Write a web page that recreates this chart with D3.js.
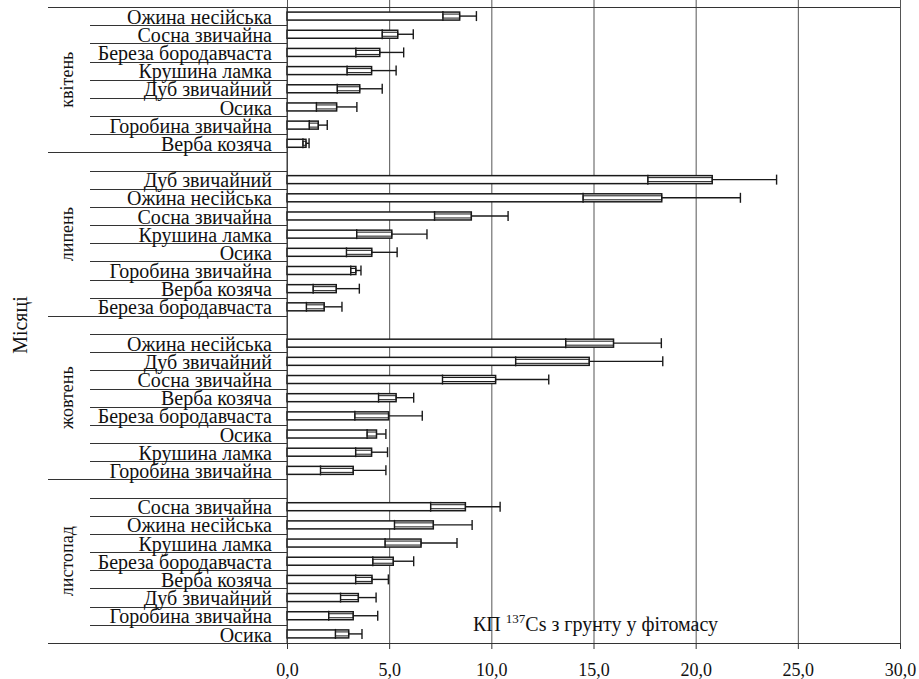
<!DOCTYPE html>
<html>
<head>
<meta charset="utf-8">
<script src="https://cdn.jsdelivr.net/npm/d3@7"></script>
<style>
  body { margin: 0; background: #fff; }
  svg { display: block; }
  text { font-family: "Liberation Serif", "Times New Roman", serif; fill: #111; }
</style>
</head>
<body>
<svg id="viz" width="919" height="679"></svg>
<script>
// groups (months), top to bottom
var months = ["квітень", "липень", "жовтень", "листопад"];

var speciesApr = ["Ожина несійська", "Сосна звичайна", "Береза бородавчаста", "Крушина ламка", "Дуб звичайний", "Осика", "Горобина звичайна", "Верба козяча"];
var valuesApr = [8.45, 5.42, 4.54, 4.14, 3.56, 2.43, 1.53, 0.93];
var errorsApr = [0.82, 0.76, 1.17, 1.2, 1.1, 0.99, 0.44, 0.15];

var speciesJul = ["Дуб звичайний", "Ожина несійська", "Сосна звичайна", "Крушина ламка", "Осика", "Горобина звичайна", "Верба козяча", "Береза бородавчаста"];
var valuesJul = [20.81, 18.34, 9.02, 5.13, 4.15, 3.37, 2.41, 1.82];
var errorsJul = [3.15, 3.85, 1.8, 1.72, 1.24, 0.25, 1.13, 0.87];

var speciesOct = ["Ожина несійська", "Дуб звичайний", "Сосна звичайна", "Верба козяча", "Береза бородавчаста", "Осика", "Крушина ламка", "Горобина звичайна"];
var valuesOct = [15.98, 14.79, 10.21, 5.34, 4.97, 4.38, 4.14, 3.24];
var errorsOct = [2.34, 3.6, 2.6, 0.86, 1.65, 0.46, 0.78, 1.6];

var speciesNov = ["Сосна звичайна", "Ожина несійська", "Крушина ламка", "Береза бородавчаста", "Верба козяча", "Дуб звичайний", "Горобина звичайна", "Осика"];
var valuesNov = [8.73, 7.16, 6.56, 5.2, 4.16, 3.49, 3.24, 3.02];
var errorsNov = [1.7, 1.9, 1.76, 1.0, 0.8, 0.87, 1.2, 0.65];

var xTicks = [0, 5, 10, 15, 20, 25, 30];
var yTitle = "Місяці";

var groups = [
  { month: months[0], species: speciesApr, values: valuesApr, errors: errorsApr, blank: false },
  { month: months[1], species: speciesJul, values: valuesJul, errors: errorsJul, blank: true },
  { month: months[2], species: speciesOct, values: valuesOct, errors: errorsOct, blank: true },
  { month: months[3], species: speciesNov, values: valuesNov, errors: errorsNov, blank: true }
];

// build category slots (each later month starts with an empty slot)
var slots = [];
groups.forEach(function(g, gi) {
  if (g.blank) slots.push({ key: gi + "-blank", group: gi, blank: true });
  g.species.forEach(function(s, i) {
    slots.push({ key: gi + "-" + i, group: gi, name: s, value: g.values[i], err: g.errors[i] });
  });
});

var plot = { left: 287, right: 900, top: 7, bottom: 643 };
var labelRight = 272, shortLineX = 90, longLineX = 48;

var svg = d3.select("#viz");

var x = d3.scaleLinear().domain([0, 30]).range([plot.left, plot.right]);
var y = d3.scaleBand()
  .domain(slots.map(function(d) { return d.key; }))
  .range([plot.top, plot.bottom])
  .paddingInner(0.56)
  .paddingOuter(0.28);

var step = y.step();
var pad = (step - y.bandwidth()) / 2;
function slotTop(d) { return y(d.key) - pad; }

// vertical gridlines
svg.append("g")
  .attr("transform", "translate(0," + plot.bottom + ")")
  .call(d3.axisBottom(x).tickValues(xTicks).tickSize(-plot.bottom).tickFormat(""))
  .call(function(g) {
    g.select(".domain").remove();
    g.selectAll("line").attr("stroke", "#555").attr("stroke-width", 1);
  });

// top border line
svg.append("line")
  .attr("x1", longLineX).attr("x2", plot.right)
  .attr("y1", plot.top + 0.5).attr("y2", plot.top + 0.5)
  .attr("stroke", "#333");

// category separators
var sep = svg.append("g");
slots.forEach(function(d, i) {
  if (i === 0) return;
  var isGroupStart = slots[i - 1].group !== d.group;
  sep.append("line")
    .attr("x1", isGroupStart ? longLineX : shortLineX)
    .attr("x2", plot.left)
    .attr("y1", Math.round(slotTop(d)) + 0.5)
    .attr("y2", Math.round(slotTop(d)) + 0.5)
    .attr("stroke", "#333");
});
sep.append("line")
  .attr("x1", longLineX).attr("x2", plot.left)
  .attr("y1", plot.bottom + 0.5).attr("y2", plot.bottom + 0.5)
  .attr("stroke", "#333");

// species labels
svg.append("g").selectAll("text")
  .data(slots.filter(function(d) { return !d.blank; }))
  .join("text")
  .attr("x", labelRight)
  .attr("y", function(d) { return slotTop(d) + step - 1.5; })
  .attr("text-anchor", "end")
  .attr("font-size", 20)
  .text(function(d) { return d.name; });

// month labels
groups.forEach(function(g, gi) {
  var gs = slots.filter(function(d) { return d.group === gi; });
  var top = slotTop(gs[0]);
  var bottom = slotTop(gs[gs.length - 1]) + step;
  svg.append("text")
    .attr("transform", "translate(73," + ((top + bottom) / 2) + ") rotate(-90)")
    .attr("text-anchor", "middle")
    .attr("font-size", 18)
    .text(g.month);
});

// y title
svg.append("text")
  .attr("transform", "translate(27,325) rotate(-90)")
  .attr("text-anchor", "middle")
  .attr("font-size", 20)
  .text(yTitle);

// bars
var data = slots.filter(function(d) { return !d.blank; });
svg.append("g").selectAll("rect")
  .data(data)
  .join("rect")
  .attr("x", x(0))
  .attr("y", function(d) { return y(d.key); })
  .attr("width", function(d) { return x(d.value) - x(0); })
  .attr("height", y.bandwidth())
  .attr("fill", "#fff")
  .attr("stroke", "#1a1a1a")
  .attr("stroke-width", 1.5);

// error bars: inner box from value-err to value, whisker to value+err
var eb = svg.append("g").attr("stroke", "#1a1a1a").attr("stroke-width", 1.4).attr("fill", "none");
data.forEach(function(d) {
  var cy = y(d.key) + y.bandwidth() / 2;
  var lo = x(Math.max(0, d.value - d.err)), v = x(d.value), hi = x(d.value + d.err);
  var h = y.bandwidth() / 2 + 1;
  eb.append("rect").attr("x", lo).attr("y", cy - 2).attr("width", v - lo).attr("height", 4)
    .attr("stroke-width", 1);
  eb.append("line").attr("x1", v).attr("x2", hi).attr("y1", cy).attr("y2", cy);
  eb.append("line").attr("x1", lo).attr("x2", lo).attr("y1", cy - h).attr("y2", cy + h);
  eb.append("line").attr("x1", hi).attr("x2", hi).attr("y1", cy - h).attr("y2", cy + h);
});

// y axis line
svg.append("line")
  .attr("x1", plot.left).attr("x2", plot.left)
  .attr("y1", plot.top).attr("y2", plot.bottom)
  .attr("stroke", "#333");

// x axis
svg.append("g")
  .attr("transform", "translate(0," + plot.bottom + ")")
  .call(d3.axisBottom(x).tickValues(xTicks).tickSize(6).tickPadding(14)
    .tickFormat(function(d) { return d.toFixed(1).replace(".", ","); }))
  .call(function(g) {
    g.select(".domain").attr("stroke", "#333");
    g.selectAll("line").attr("stroke", "#333");
    g.selectAll("text").attr("font-size", 18).attr("fill", "#111");
  });

// annotation
var ann = svg.append("text").attr("x", 473).attr("y", 631).attr("font-size", 20);
ann.append("tspan").text("КП ");
ann.append("tspan").attr("font-size", 13).attr("dy", -8).text("137");
ann.append("tspan").attr("dy", 8).text("Cs з грунту у фітомасу");
</script>
</body>
</html>
